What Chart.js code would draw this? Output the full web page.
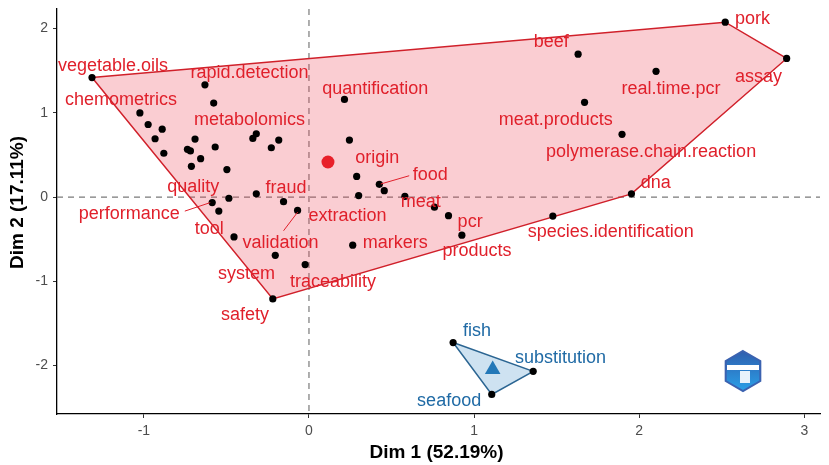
<!DOCTYPE html>
<html lang="en">
<head>
<meta charset="UTF-8">
<title>Dim 1 vs Dim 2</title>
<script src="https://cdn.jsdelivr.net/npm/chart.js"></script>
<style>
  html, body { margin: 0; padding: 0; background: #fff; }
  #wrap { width: 829px; height: 465px; }
</style>
</head>
<body>
<div id="wrap"><canvas id="chart" width="829" height="465"></canvas></div>
<script>
// red cluster points (Dim 1, Dim 2)
const redX = [-1.314, -0.630, -0.577, 0.215, -1.024, -0.974, -0.889, -0.932, -0.879, -0.690,
              -0.736, -0.718, -0.656, -0.712, -0.568, -0.497, -0.340, -0.319, -0.228, -0.183,
              0.245, 0.289, 0.426, 0.456, 0.301, 0.581, 0.760, 0.845, 0.926, 0.265,
              -0.319, -0.485, -0.586, -0.546, -0.154, -0.069, -0.454, -0.204, -0.023, -0.219,
              1.630, 2.521, 2.893, 2.102, 1.669, 1.896, 1.953, 1.477];
const redY = [1.418, 1.332, 1.115, 1.159, 0.998, 0.861, 0.806, 0.692, 0.520, 0.688,
              0.567, 0.547, 0.456, 0.365, 0.594, 0.326, 0.696, 0.751, 0.585, 0.676,
              0.676, 0.245, 0.151, 0.076, 0.018, 0.009, -0.120, -0.221, -0.453, -0.571,
              0.038, -0.014, -0.065, -0.167, -0.055, -0.159, -0.473, -0.692, -0.802, -1.209,
              1.696, 2.076, 1.645, 1.492, 1.124, 0.744, 0.038, -0.226];

// blue cluster points
const blueX = [0.873, 1.358, 1.107];
const blueY = [-1.727, -2.068, -2.343];

// labels (repelled positions)
const redLabels = ['vegetable.oils', 'rapid.detection', 'chemometrics', 'metabolomics', 'quantification',
  'origin', 'food', 'meat', 'pcr', 'products', 'markers', 'extraction', 'validation', 'fraud',
  'quality', 'performance', 'tool', 'system', 'traceability', 'safety', 'beef', 'pork', 'assay',
  'real.time.pcr', 'meat.products', 'polymerase.chain.reaction', 'dna', 'species.identification'];
const redLabelX = [-1.187, -0.360, -1.139, -0.360, 0.402, 0.414, 0.734, 0.677, 0.976, 1.018, 0.523,
  0.233, -0.172, -0.139, -0.701, -1.088, -0.604, -0.378, 0.145, -0.387, 1.468, 2.686, 2.722, 2.193,
  1.495, 2.072, 2.100, 1.828];
const redLabelY = [1.559, 1.476, 1.147, 0.920, 1.288, 0.468, 0.265, -0.061, -0.296, -0.641, -0.551,
  -0.226, -0.551, 0.108, 0.124, -0.198, -0.374, -0.912, -1.009, -1.406, 1.841, 2.108, 1.429, 1.285,
  0.920, 0.539, 0.162, -0.421];

const blueLabels = ['fish', 'substitution', 'seafood'];
const blueLabelX = [1.018, 1.523, 0.849];
const blueLabelY = [-1.590, -1.915, -2.426];

// label connector segments: x1, y1, x2, y2
const segX1 = [0.435, -0.598, -0.068];
const segY1 = [0.155, -0.066, -0.178];
const segX2 = [0.607, -0.752, -0.154];
const segY2 = [0.253, -0.167, -0.400];

const xTicks = [-1, 0, 1, 2, 3];
const yTicks = [-2, -1, 0, 1, 2];
const xTitle = 'Dim 1 (52.19%)';
const yTitle = 'Dim 2 (17.11%)';

const FONT = '"Liberation Sans", Arial, sans-serif';
const RED = '#e0202b';
const BLUE = '#1f6aa5';

function toPts(xs, ys) {
  return xs.map((x, i) => ({ x: x, y: ys[i] }));
}

function hull(pts) {
  const p = pts.slice().sort((a, b) => a.x - b.x || a.y - b.y);
  const cross = (o, a, b) => (a.x - o.x) * (b.y - o.y) - (a.y - o.y) * (b.x - o.x);
  const lower = [], upper = [];
  for (const q of p) {
    while (lower.length >= 2 && cross(lower[lower.length - 2], lower[lower.length - 1], q) <= 0) lower.pop();
    lower.push(q);
  }
  for (let i = p.length - 1; i >= 0; i--) {
    const q = p[i];
    while (upper.length >= 2 && cross(upper[upper.length - 2], upper[upper.length - 1], q) <= 0) upper.pop();
    upper.push(q);
  }
  upper.pop(); lower.pop();
  const h = lower.concat(upper);
  h.push(h[0]);
  return h;
}

function mean(a) { return a.reduce((s, v) => s + v, 0) / a.length; }

const redPts = toPts(redX, redY);
const bluePts = toPts(blueX, blueY);

const zeroLines = {
  id: 'zeroLines',
  beforeDatasetsDraw(chart) {
    const { ctx, chartArea: a, scales: { x, y } } = chart;
    ctx.save();
    ctx.strokeStyle = '#7a7a7a';
    ctx.lineWidth = 1.2;
    ctx.setLineDash([6, 5]);
    const x0 = x.getPixelForValue(0), y0 = y.getPixelForValue(0);
    ctx.beginPath();
    ctx.moveTo(x0, a.top); ctx.lineTo(x0, a.bottom);
    ctx.moveTo(a.left, y0); ctx.lineTo(a.right, y0);
    ctx.stroke();
    ctx.restore();
  }
};

const labelsPlugin = {
  id: 'labels',
  afterDatasetsDraw(chart) {
    const { ctx, scales: { x, y } } = chart;
    ctx.save();
    ctx.strokeStyle = RED;
    ctx.lineWidth = 1;
    segX1.forEach((v, i) => {
      ctx.beginPath();
      ctx.moveTo(x.getPixelForValue(v), y.getPixelForValue(segY1[i]));
      ctx.lineTo(x.getPixelForValue(segX2[i]), y.getPixelForValue(segY2[i]));
      ctx.stroke();
    });
    ctx.font = '18px ' + FONT;
    ctx.textAlign = 'center';
    ctx.textBaseline = 'middle';
    ctx.fillStyle = RED;
    redLabels.forEach((t, i) => {
      ctx.fillText(t, x.getPixelForValue(redLabelX[i]), y.getPixelForValue(redLabelY[i]));
    });
    ctx.fillStyle = BLUE;
    blueLabels.forEach((t, i) => {
      ctx.fillText(t, x.getPixelForValue(blueLabelX[i]), y.getPixelForValue(blueLabelY[i]));
    });

    // axis titles
    const a = chart.chartArea;
    ctx.fillStyle = '#000';
    ctx.font = 'bold 19px ' + FONT;
    ctx.fillText(xTitle, (a.left + a.right) / 2 - 2, a.bottom + 39);
    ctx.translate(18, (a.top + a.bottom) / 2 - 9);
    ctx.rotate(-Math.PI / 2);
    ctx.fillText(yTitle, 0, 0);
    ctx.restore();

    // watermark logo
    ctx.save();
    const cx = 743, cy = 371, r = 20;
    ctx.beginPath();
    for (let k = 0; k < 6; k++) {
      const ang = Math.PI / 3 * k - Math.PI / 2;
      ctx.lineTo(cx + r * Math.cos(ang), cy + r * Math.sin(ang));
    }
    ctx.closePath();
    const g = ctx.createLinearGradient(cx, cy - r, cx, cy + r);
    g.addColorStop(0, '#2f5fae');
    g.addColorStop(1, '#2aa0e8');
    ctx.fillStyle = g;
    ctx.fill();
    ctx.lineWidth = 2;
    ctx.strokeStyle = '#3b62b0';
    ctx.stroke();
    ctx.fillStyle = '#ffffff';
    ctx.fillRect(cx - 16, cy - 6, 32, 5);
    ctx.fillStyle = '#e8f2fb';
    ctx.fillRect(cx - 3, cy, 10, 12);
    ctx.restore();
  }
};

new Chart(document.getElementById('chart'), {
  type: 'scatter',
  data: {
    datasets: [
      {
        data: [{ x: mean(blueX), y: mean(blueY) }],
        pointStyle: 'triangle', pointRadius: 9, backgroundColor: '#2378b8', borderWidth: 0, order: 0
      },
      {
        data: [{ x: mean(redX), y: mean(redY) }],
        pointRadius: 6.5, backgroundColor: '#e8202a', borderWidth: 0, order: 0
      },
      {
        data: redPts.concat(bluePts),
        pointRadius: 3.6, backgroundColor: '#000', borderWidth: 0, order: 1
      },
      {
        data: hull(bluePts), showLine: true, fill: 'shape', tension: 0,
        backgroundColor: 'rgba(60,140,200,0.25)', borderColor: '#2b6592', borderWidth: 1.5,
        pointRadius: 0, order: 2
      },
      {
        data: hull(redPts), showLine: true, fill: 'shape', tension: 0,
        backgroundColor: 'rgba(235,60,80,0.26)', borderColor: '#d0202a', borderWidth: 1.5,
        pointRadius: 0, order: 3
      }
    ]
  },
  options: {
    responsive: false,
    animation: false,
    events: [],
    layout: { padding: { top: 2, right: 7, left: 0, bottom: 0 } },
    plugins: { legend: { display: false }, tooltip: { enabled: false } },
    scales: {
      x: {
        type: 'linear', min: -1.526, max: 3.095,
        afterBuildTicks: s => { s.ticks = xTicks.map(v => ({ value: v })); },
        afterFit: s => { s.height = 51; s.paddingLeft = 0; s.paddingRight = 0; },
        grid: { drawOnChartArea: false, drawTicks: true, tickLength: 4, tickColor: '#333' },
        border: { display: true, color: '#000', width: 1.3 },
        ticks: { color: '#4d4d4d', padding: 5, font: { family: FONT, size: 14 } }
      },
      y: {
        type: 'linear', min: -2.575, max: 2.232,
        afterBuildTicks: s => { s.ticks = yTicks.map(v => ({ value: v })); },
        afterFit: s => { s.width = 57; s.paddingTop = 0; s.paddingBottom = 0; },
        grid: { drawOnChartArea: false, drawTicks: true, tickLength: 4, tickColor: '#333' },
        border: { display: true, color: '#000', width: 1.3 },
        ticks: { color: '#4d4d4d', padding: 5, font: { family: FONT, size: 14 } }
      }
    }
  },
  plugins: [zeroLines, labelsPlugin]
});
</script>
</body>
</html>
